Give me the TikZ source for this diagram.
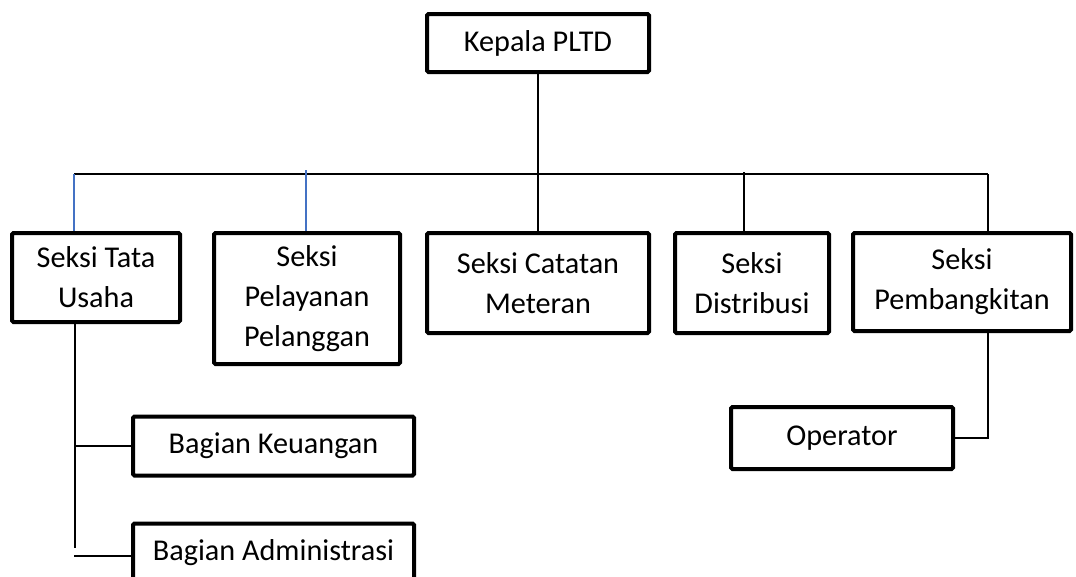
\documentclass[tikz,border=0pt]{standalone}
\usepackage{fontspec}
\setmainfont{Carlito}
\usepackage{tikz}
\usetikzlibrary{positioning,calc}
\usepackage{xcolor}
\definecolor{wordblue}{RGB}{68,114,196}

\begin{document}
\begin{tikzpicture}[
  x=1pt,y=-1pt,
  font=\fontsize{30.2}{40}\selectfont,
  unit/.style={draw,line width=4pt,rounded corners=1.5pt,align=center,
               inner sep=0pt},
  link/.style={line width=1.4pt},
  blink/.style={link,draw=wordblue},
]
  \useasboundingbox (0,0) rectangle (1076,576);
  \clip (0,0) rectangle (1076,576);

  % kepala
  \node[unit,minimum width=222pt,minimum height=58pt] (kep) at (538,43) {Kepala PLTD};

  % seksi
  \node[unit,minimum width=168pt,minimum height=89pt]  (tu)  at (96,277.5) {Seksi Tata\\Usaha};
  \node[unit,minimum width=186pt,minimum height=131pt] (pel) at (307,298.5) {Seksi\\Pelayanan\\Pelanggan};
  \node[unit,minimum width=222pt,minimum height=100pt] (cat) at (538,283) {Seksi Catatan\\Meteran};
  \node[unit,minimum width=154pt,minimum height=100pt] (dis) at (752,283) {Seksi\\Distribusi};
  \node[unit,minimum width=218pt,minimum height=98pt]  (pem) at (962,282) {Seksi\\Pembangkitan};

  % bagian
  \node[unit,minimum width=281pt,minimum height=59pt] (keu) at (273.5,446) {Bagian Keuangan};
  \node[unit,minimum width=281pt,minimum height=59pt] (adm) at (273.5,553) {Bagian Administrasi};
  \node[unit,minimum width=222pt,minimum height=62pt] (op)  at (842,438) {Operator};

  % bus
  \coordinate (busL) at (74,174);
  \coordinate (busR) at (988,174);
  \coordinate (busP) at (306,170);
  \coordinate (busD) at (744,172);
  \draw[link] (busL) -- (busR);
  \draw[link] (kep.south) -- (cat.north);
  \draw[blink] (busL) -- (busL |- tu.north);
  \draw[blink] (busP) -- (busP |- pel.north);
  \draw[link] (busD) -- (busD |- dis.north);
  \draw[link] (busR) -- (busR |- pem.north);

  % tata usaha
  \coordinate (tuT) at (75,0);
  \coordinate (tuE) at (75,548);
  \draw[link] (tuT |- tu.south) -- (tuE);
  \draw[link] (tuT |- keu.west) -- (keu.west);
  \draw[link] (74,556) coordinate (admL) -- (admL -| adm.west);

  % pembangkitan
  \draw[link] (busR |- pem.south) |- (op.east);
\end{tikzpicture}
\end{document}
